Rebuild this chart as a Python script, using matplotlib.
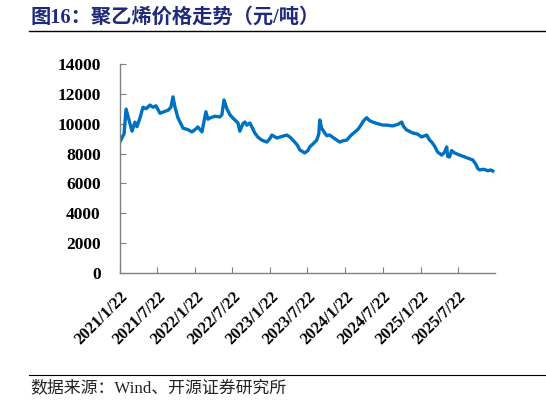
import matplotlib
matplotlib.use('Agg')
import matplotlib.pyplot as plt
import pandas as pd

# 聚乙烯价格 (元/吨)
dates = [
    '2021-01-22', '2021-02-05', '2021-02-10', '2021-02-20', '2021-03-07', '2021-03-21',
    '2021-04-04', '2021-04-14', '2021-04-29', '2021-05-13', '2021-05-28', '2021-06-16',
    '2021-07-01', '2021-07-15', '2021-08-04', '2021-08-23', '2021-09-12', '2021-09-26',
    '2021-10-06', '2021-10-16', '2021-10-30', '2021-11-24', '2021-12-18', '2022-01-06',
    '2022-01-21', '2022-02-04', '2022-02-24', '2022-03-15', '2022-03-25', '2022-04-03',
    '2022-04-28', '2022-05-22', '2022-06-01', '2022-06-11', '2022-06-25', '2022-07-10',
    '2022-07-24', '2022-08-18', '2022-08-27', '2022-09-11', '2022-09-21', '2022-09-30',
    '2022-10-15', '2022-11-08', '2022-11-23', '2022-12-12', '2023-01-06', '2023-01-20',
    '2023-01-30', '2023-02-23', '2023-03-20', '2023-04-13', '2023-04-28', '2023-05-12',
    '2023-06-01', '2023-06-15', '2023-07-09', '2023-07-24', '2023-08-02', '2023-08-22',
    '2023-09-05', '2023-09-15', '2023-09-20', '2023-09-29', '2023-10-14', '2023-10-24',
    '2023-11-07', '2023-12-01', '2023-12-26', '2024-01-09', '2024-01-29', '2024-02-17',
    '2024-03-08', '2024-03-22', '2024-04-01', '2024-04-20', '2024-05-05', '2024-05-19',
    '2024-06-03', '2024-06-27', '2024-07-22', '2024-08-15', '2024-09-08', '2024-10-03',
    '2024-10-22', '2024-11-01', '2024-11-15', '2024-12-15', '2025-01-08', '2025-01-27',
    '2025-02-21', '2025-03-07', '2025-03-17', '2025-03-31', '2025-04-15', '2025-05-05',
    '2025-05-19', '2025-05-29', '2025-06-03', '2025-06-12', '2025-06-22', '2025-07-06',
    '2025-07-31', '2025-08-29', '2025-09-17', '2025-10-03', '2025-10-17', '2025-10-27',
    '2025-11-06', '2025-11-25', '2025-12-15', '2025-12-29', '2026-01-08',
]
prices = [
    8800, 9200, 9300, 10980, 10200, 9500,
    10100, 9800, 10400, 11100, 11000, 11250,
    11100, 11200, 10700, 10800, 10900, 11100,
    11800, 11100, 10400, 9700, 9600, 9450,
    9600, 9780, 9450, 10800, 10300, 10380,
    10500, 10450, 10600, 11590, 11000, 10600,
    10380, 10050, 9500, 10000, 10110, 9900,
    10050, 9380, 9100, 8900, 8770, 9000,
    9240, 9040, 9150, 9240, 9100, 8900,
    8600, 8240, 8040, 8200, 8440, 8700,
    8900, 9300, 10250, 9700, 9380, 9200,
    9240, 9000, 8770, 8850, 8900, 9200,
    9440, 9600, 9780, 10200, 10400, 10200,
    10110, 10000, 9910, 9900, 9850, 9950,
    10110, 9800, 9580, 9380, 9300, 9110,
    9240, 8900, 8770, 8500, 8100, 7900,
    8100, 8440, 7800, 7770, 8200, 8040,
    7900, 7750, 7650, 7570, 7300, 7000,
    6900, 6950, 6850, 6900, 6830,
]
tick_dates = ['2021-01-22', '2021-07-22', '2022-01-22', '2022-07-22', '2023-01-22',
              '2023-07-22', '2024-01-22', '2024-07-22', '2025-01-22', '2025-07-22']
tick_labels = ['2021/1/22', '2021/7/22', '2022/1/22', '2022/7/22', '2023/1/22',
               '2023/7/22', '2024/1/22', '2024/7/22', '2025/1/22', '2025/7/22']
y_ticks = [0, 2000, 4000, 6000, 8000, 10000, 12000, 14000]

title = '图16：聚乙烯价格走势（元/吨）'
source = '数据来源：Wind、开源证券研究所'

df = pd.DataFrame({'date': pd.to_datetime(dates), 'price': prices})

fig = plt.figure(figsize=(5.46, 4.05), dpi=100)
ax = fig.add_axes([0.22, 0.326, 0.687, 0.516])

ax.plot(df['date'], df['price'], color='#0070C0', linewidth=2.4, solid_joinstyle='round')

ax.set_ylim(0, 14000)
ax.set_yticks(y_ticks)
ax.set_yticklabels([str(v) for v in y_ticks], fontfamily='Liberation Serif',
                   fontweight='bold', fontsize=12.5)
ax.set_xlim(pd.Timestamp('2021-01-22'), pd.Timestamp('2026-01-20'))
ax.set_xticks(pd.to_datetime(tick_dates))
ax.set_xticklabels(tick_labels, rotation=45, ha='right', rotation_mode='anchor',
                   fontfamily='Liberation Serif', fontweight='bold', fontsize=12)

for s in ['top', 'right']:
    ax.spines[s].set_visible(False)
for s in ['left', 'bottom']:
    ax.spines[s].set_color('#808080')
    ax.spines[s].set_linewidth(1.0)
ax.tick_params(axis='both', direction='in', length=4, color='#808080')
ax.tick_params(axis='x', pad=11)
ax.tick_params(axis='y', pad=14)

# title and source with rules
fig.text(0.055, 0.957, title, fontsize=14.6, fontweight='bold', color='#1F2A7A',
         family=['Liberation Serif', 'Noto Sans CJK SC'], va='center')
fig.add_artist(plt.Line2D([0.053, 1.0], [0.923, 0.923], color='black', linewidth=1.0))
fig.add_artist(plt.Line2D([0.053, 1.0], [0.074, 0.074], color='black', linewidth=0.8))
fig.text(0.055, 0.041, source, fontsize=12.2, color='#222222',
         family=['Liberation Serif', 'Noto Sans CJK SC'], va='center')

fig.savefig('out.png', dpi=100)
